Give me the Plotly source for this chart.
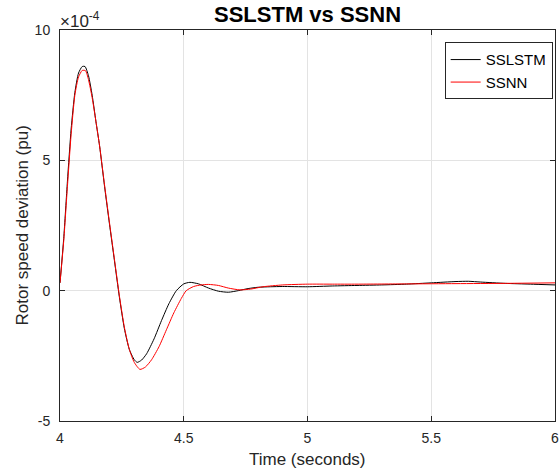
import plotly.graph_objects as go

# Time (seconds) and rotor speed deviation (x 1e-4 pu)
t_sslstm = [4.000, 4.015, 4.030, 4.045, 4.060, 4.075, 4.090, 4.101, 4.115, 4.130,
            4.145, 4.160, 4.180, 4.200, 4.220, 4.240, 4.260, 4.280, 4.300, 4.312,
            4.330, 4.350, 4.380, 4.410, 4.440, 4.470, 4.500, 4.525, 4.560,
            4.600, 4.640, 4.680, 4.720, 4.760, 4.800, 4.850, 4.900, 5.000, 5.100,
            5.200, 5.300, 5.400, 5.500, 5.600, 5.650, 5.700, 5.800, 5.900, 6.000]
y_sslstm = [0.30, 2.0, 4.2, 6.2, 7.6, 8.35, 8.6, 8.6, 8.25, 7.5,
            6.5, 5.55, 4.0, 2.55, 1.15, -0.25, -1.45, -2.25, -2.65, -2.75,
            -2.66, -2.42, -1.85, -1.15, -0.5, 0.0, 0.26, 0.32, 0.26,
            0.10, -0.02, -0.06, 0.0, 0.08, 0.13, 0.15, 0.16, 0.15, 0.18,
            0.20, 0.22, 0.25, 0.30, 0.35, 0.36, 0.33, 0.28, 0.25, 0.22]

t_ssnn = [4.000, 4.015, 4.030, 4.045, 4.060, 4.075, 4.090, 4.103, 4.115, 4.130,
          4.145, 4.160, 4.180, 4.200, 4.220, 4.240, 4.260, 4.280, 4.300, 4.323,
          4.345, 4.370, 4.400, 4.430, 4.460, 4.490, 4.510, 4.540, 4.570, 4.600,
          4.640, 4.680, 4.727, 4.770, 4.820, 4.900, 5.000, 5.100, 5.200,
          5.400, 5.600, 5.800, 6.000]
y_ssnn = [0.30, 1.9, 4.0, 6.0, 7.5, 8.2, 8.45, 8.44, 8.1, 7.4,
          6.5, 5.55, 4.05, 2.6, 1.2, -0.2, -1.4, -2.25, -2.75, -3.02,
          -2.93, -2.65, -2.15, -1.5, -0.85, -0.3, 0.0, 0.16, 0.22, 0.24,
          0.20, 0.10, 0.03, 0.06, 0.15, 0.22, 0.25, 0.25, 0.25,
          0.26, 0.27, 0.28, 0.30]

x_ticks = [4, 4.5, 5, 5.5, 6]
x_tick_text = ["4", "4.5", "5", "5.5", "6"]
y_ticks = [-5, 0, 5, 10]
y_tick_text = ["-5", "0", "5", "10"]

FONT = "Liberation Sans, Arial, sans-serif"
AX = "#262626"

fig = go.Figure()
fig.add_trace(go.Scatter(x=t_sslstm, y=y_sslstm, mode="lines", name="SSLSTM",
                         line=dict(color="black", width=1, shape="spline", smoothing=0.6)))
fig.add_trace(go.Scatter(x=t_ssnn, y=y_ssnn, mode="lines", name="SSNN",
                         line=dict(color="red", width=1, shape="spline", smoothing=0.6)))

axis_common = dict(showline=True, linecolor=AX, linewidth=1, mirror="ticks",
                   ticks="inside", ticklen=5, tickcolor=AX, showgrid=True,
                   gridcolor="#e3e3e3", gridwidth=1, zeroline=False, automargin=False,
                   tickfont=dict(family=FONT, size=14, color=AX))

fig.update_layout(
    width=560, height=470,
    margin=dict(l=60, r=5, t=30, b=49, autoexpand=False),
    paper_bgcolor="white", plot_bgcolor="white",
    showlegend=True,
    legend=dict(x=0.9953, y=0.9685, xanchor="right", yanchor="top",
                bordercolor=AX, borderwidth=1, bgcolor="white",
                font=dict(family=FONT, size=15, color="black"),
                tracegroupgap=0, itemwidth=30),
    xaxis=dict(range=[4, 6], tickvals=x_ticks, ticktext=x_tick_text,
               ticklabelstandoff=4, **axis_common),
    yaxis=dict(range=[-5, 10], tickvals=y_ticks, ticktext=y_tick_text,
               ticklabelstandoff=6, **axis_common),
    annotations=[
        dict(text="<b>SSLSTM vs SSNN</b>", x=0.5, y=1, xref="paper", yref="paper",
             xanchor="center", yanchor="bottom", yshift=1, showarrow=False,
             font=dict(family=FONT, size=22, color="black")),
        dict(text="Time (seconds)", x=0.5, y=0, xref="paper", yref="paper",
             xanchor="center", yanchor="top", yshift=-27, showarrow=False,
             font=dict(family=FONT, size=17, color=AX)),
        dict(text="Rotor speed deviation (pu)", x=0, y=0.5, xref="paper", yref="paper",
             xanchor="center", yanchor="middle", xshift=-38, textangle=-90,
             showarrow=False, font=dict(family=FONT, size=17, color=AX)),
        dict(text="×10<sup>-4</sup>", x=0, y=1, xref="paper", yref="paper",
             xanchor="left", yanchor="bottom", xshift=-2, yshift=-3, showarrow=False,
             font=dict(family=FONT, size=17, color=AX)),
    ],
)

# remove the page's default body margin so the figure fills the window exactly
fig.write_html("out.html", config={"displayModeBar": False},
               post_script="document.body.style.margin='0';"
                           "document.body.style.overflow='hidden';")
